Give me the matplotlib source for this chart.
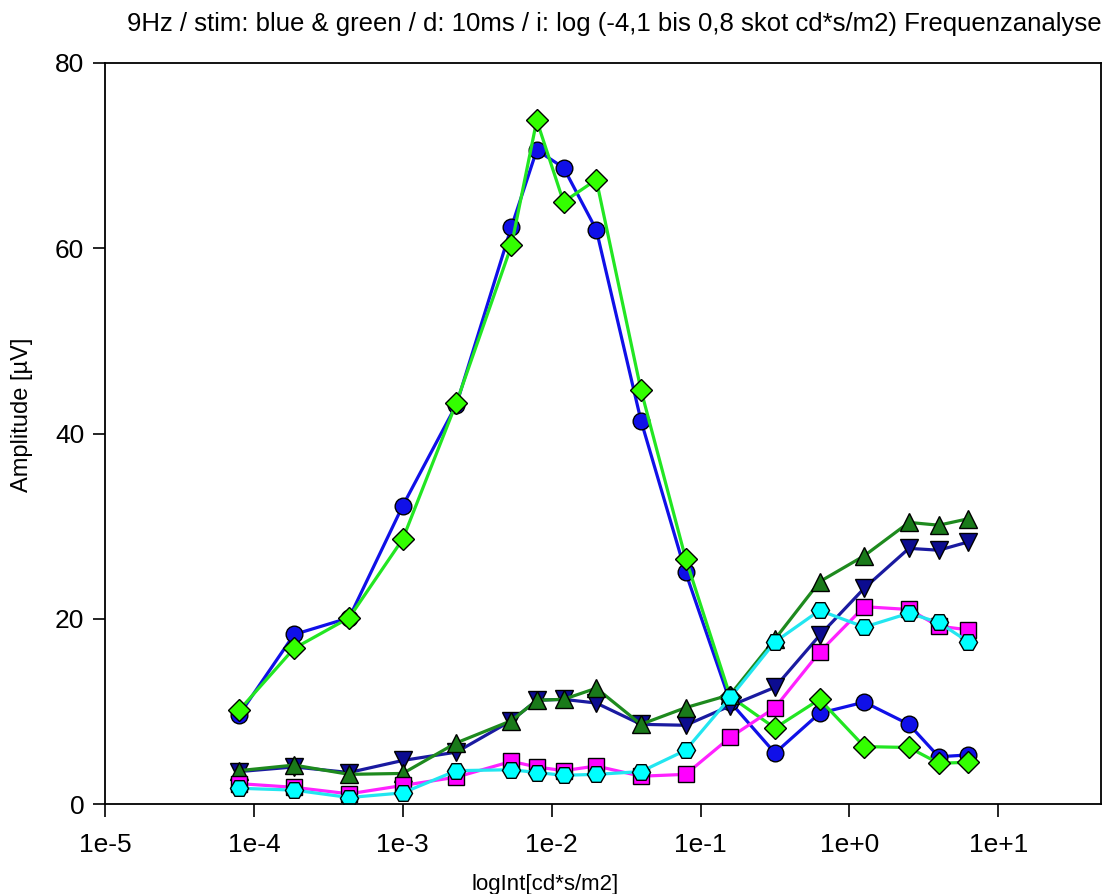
import numpy as np
import matplotlib
matplotlib.use("Agg")
import matplotlib.pyplot as plt
from matplotlib.ticker import FixedLocator, NullLocator

plt.rcParams['font.family'] = ['Liberation Sans', 'DejaVu Sans']

# log10 der Intensitaet (cd*s/m2), -4,1 bis 0,8
log_int = [-4.1, -3.73, -3.36, -3.0, -2.64, -2.27, -2.1, -1.92, -1.7,
           -1.4, -1.1, -0.8, -0.5, -0.2, 0.1, 0.4, 0.6, 0.8]
intensity = [10 ** v for v in log_int]

# Amplituden [uV]
blue_circle = [9.6, 18.3, 20.1, 32.2, 43.1, 62.3, 70.6, 68.7, 62.0,
               41.4, 25.0, 11.0, 5.5, 9.8, 11.0, 8.6, 5.1, 5.3]
green_diamond = [10.1, 16.8, 20.1, 28.6, 43.3, 60.3, 73.8, 65.0, 67.4,
                 44.7, 26.5, 11.6, 8.2, 11.3, 6.2, 6.1, 4.4, 4.5]
navy_tri = [3.5, 4.0, 3.4, 4.7, 5.6, 9.0, 11.2, 11.3, 10.9,
            8.6, 8.5, 10.6, 12.6, 18.2, 23.3, 27.6, 27.4, 28.3]
green_tri = [3.6, 4.2, 3.2, 3.3, 6.6, 9.0, 11.2, 11.3, 12.5,
             8.6, 10.4, 11.8, 17.8, 24.0, 26.8, 30.4, 30.1, 30.8]
magenta_sq = [2.2, 1.8, 1.1, 2.0, 2.9, 4.6, 4.0, 3.6, 4.1,
              3.0, 3.2, 7.2, 10.4, 16.4, 21.3, 21.0, 19.2, 18.8]
cyan_hex = [1.7, 1.5, 0.7, 1.2, 3.6, 3.7, 3.4, 3.1, 3.2,
            3.5, 5.8, 11.5, 17.5, 20.9, 19.1, 20.6, 19.6, 17.5]

series = [
    (blue_circle, 'o', '#1010e8', '#1010e8', 12),
    (green_diamond, 'D', '#22e622', '#33ff00', 11),
    (navy_tri, 'v', '#1a1aa0', '#0c0c90', 13),
    (green_tri, '^', '#1e8a1e', '#1a7a1a', 13),
    (magenta_sq, 's', '#ff22ff', '#ff00ff', 11),
    (cyan_hex, 'H', '#22e6f0', '#00ffff', 13),
]

fig = plt.figure(figsize=(11.07, 8.94), dpi=100)
ax = fig.add_axes([105 / 1107, 1 - 804 / 894, (1101 - 105) / 1107, (804 - 63) / 894])

for vals, mk, lc, fc, ms in series:
    ax.plot(intensity, vals, color=lc, lw=2.3, marker=mk, markersize=ms,
            markerfacecolor=fc, markeredgecolor='black', markeredgewidth=1.0)

ax.set_xscale('log')
ax.set_xlim(1e-5, 10 ** 1.69)
ax.set_ylim(0, 80)

xt = [1e-5, 1e-4, 1e-3, 1e-2, 1e-1, 1e0, 1e1]
ax.xaxis.set_major_locator(FixedLocator(xt))
ax.xaxis.set_minor_locator(NullLocator())
ax.set_xticklabels(['1e-5', '1e-4', '1e-3', '1e-2', '1e-1', '1e+0', '1e+1'])
ax.set_yticks([0, 20, 40, 60, 80])

ax.tick_params(axis='both', direction='out', length=9, width=1.2,
               labelsize=19, colors='black')
ax.tick_params(axis='x', pad=12)
ax.tick_params(axis='y', pad=6)
for sp in ax.spines.values():
    sp.set_linewidth(1.3)

fig.text(1102 / 1107, 1 - 24 / 894,
         '9Hz / stim: blue & green / d: 10ms / i: log (-4,1 bis 0,8 skot cd*s/m2) Frequenzanalyse',
         ha='right', va='center', fontsize=18.5)
fig.text(545 / 1107, 1 - 874 / 894, 'logInt[cd*s/m2]', ha='center', va='top', fontsize=16)
fig.text(22 / 1107, 1 - 415 / 894, 'Amplitude [µV]', ha='center', va='center',
         rotation=90, fontsize=17)

fig.savefig('out.png', dpi=100)
